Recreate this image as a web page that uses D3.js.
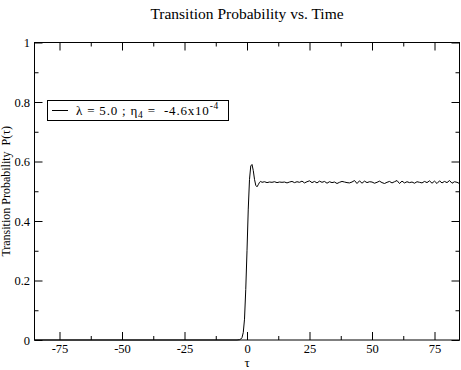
<!DOCTYPE html>
<html>
<head>
<meta charset="utf-8">
<script src="https://cdn.jsdelivr.net/npm/d3@7"></script>
<style>
  body { margin: 0; background: #fff; }
  text { font-family: "Liberation Serif", "Times New Roman", serif; fill: #000; }
</style>
</head>
<body>
<svg id="chart"></svg>
<script>
var width = 461,
    height = 370

// transition probability curve
var tauStep = [-85, -10, -4, -3, -2.5, -2, -1.5, -1, -0.5, 0, 0.5, 1, 1.5, 2, 2.5, 3, 3.5, 4, 4.5, 5, 5.5]
var probStep = [0, 0, 0, 0.001, 0.003, 0.008, 0.025, 0.07, 0.17, 0.30, 0.44, 0.54, 0.585, 0.59, 0.57, 0.54, 0.52, 0.515, 0.522, 0.53, 0.533]

var tauPlateau = [6, 7, 8, 9, 10, 11, 12, 13, 14, 15, 16, 17, 18, 19, 20, 21, 22, 23, 24, 25,
    26, 27, 28, 29, 30, 31, 32, 33, 34, 35, 36, 37, 38, 39, 40, 41, 42, 43, 44, 45,
    46, 47, 48, 49, 50, 51, 52, 53, 54, 55, 56, 57, 58, 59, 60, 61, 62, 63, 64, 65,
    66, 67, 68, 69, 70, 71, 72, 73, 74, 75, 76, 77, 78, 79, 80, 81, 82, 83, 84, 85]
var probPlateau = [0.530, 0.532, 0.529, 0.531, 0.530, 0.532, 0.529, 0.531, 0.530, 0.531, 0.528, 0.531, 0.533, 0.529, 0.532, 0.530, 0.534, 0.528, 0.532, 0.535,
    0.529, 0.533, 0.528, 0.534, 0.530, 0.533, 0.527, 0.532, 0.529, 0.531, 0.526, 0.530, 0.533, 0.531, 0.529, 0.528, 0.531, 0.536, 0.526, 0.535,
    0.527, 0.534, 0.529, 0.532, 0.531, 0.527, 0.530, 0.534, 0.529, 0.526, 0.530, 0.533, 0.528, 0.532, 0.536, 0.526, 0.534, 0.528, 0.532, 0.529,
    0.531, 0.527, 0.532, 0.530, 0.528, 0.533, 0.529, 0.535, 0.527, 0.534, 0.526, 0.535, 0.528, 0.533, 0.529, 0.536, 0.527, 0.532, 0.530, 0.526]

var xTicks = [-75, -50, -25, 0, 25, 50, 75]
var xMinor = [-62.5, -37.5, -12.5, 12.5, 37.5, 62.5]
var yTicks = [0, 0.2, 0.4, 0.6, 0.8, 1]
var yMinor = [0.1, 0.3, 0.5, 0.7, 0.9]

var tau = tauStep.concat(tauPlateau)
var prob = probStep.concat(probPlateau)
var data = tau.map(function(t, i) { return {t: t, p: prob[i]} })

var plotLeft = 34.5, plotRight = 459.5, plotTop = 42.5, plotBottom = 340

var svg = d3.select("#chart")
    .attr("width", width)
    .attr("height", height)

var x = d3.scaleLinear().domain([-85, 85]).range([plotLeft, plotRight])
var y = d3.scaleLinear().domain([0, 1]).range([plotBottom, plotTop])

// title
svg.append("text")
    .attr("x", (plotLeft + plotRight) / 2)
    .attr("y", 19)
    .attr("text-anchor", "middle")
    .style("font-size", "15.5px")
    .text("Transition Probability vs. Time")

// ticks (inside, on all four sides)
var plain = function(d) { return String(d) }
var bottomAxis = d3.axisBottom(x).tickValues(xTicks).tickSize(-8).tickPadding(4).tickFormat(plain)
var bottomMinor = d3.axisBottom(x).tickValues(xMinor).tickSize(-4).tickFormat("")
var topAxis = d3.axisTop(x).tickValues(xTicks).tickSize(-8).tickFormat("")
var topMinor = d3.axisTop(x).tickValues(xMinor).tickSize(-4).tickFormat("")
var leftAxis = d3.axisLeft(y).tickValues(yTicks).tickSize(-8).tickPadding(4.5).tickFormat(plain)
var leftMinor = d3.axisLeft(y).tickValues(yMinor).tickSize(-4).tickFormat("")
var rightAxis = d3.axisRight(y).tickValues(yTicks).tickSize(-8).tickFormat("")
var rightMinor = d3.axisRight(y).tickValues(yMinor).tickSize(-4).tickFormat("")

function drawAxis(ax, tx, ty) {
    var g = svg.append("g")
        .attr("transform", "translate(" + tx + "," + ty + ")")
        .call(ax)
    g.select(".domain").remove()
    g.selectAll("line").attr("stroke", "#000")
    g.selectAll("text")
        .attr("fill", "#000")
        .style("font-size", "12.5px")
    return g
}

drawAxis(bottomAxis, 0, plotBottom)
drawAxis(bottomMinor, 0, plotBottom)
drawAxis(topAxis, 0, plotTop)
drawAxis(topMinor, 0, plotTop)
drawAxis(leftAxis, plotLeft, 0)
drawAxis(leftMinor, plotLeft, 0)
drawAxis(rightAxis, plotRight, 0)
drawAxis(rightMinor, plotRight, 0)

// frame
svg.append("rect")
    .attr("x", plotLeft)
    .attr("y", plotTop)
    .attr("width", plotRight - plotLeft)
    .attr("height", plotBottom - plotTop)
    .attr("fill", "none")
    .attr("stroke", "#000")

// curve
var line = d3.line()
    .x(function(d) { return x(d.t) })
    .y(function(d) { return y(d.p) })

svg.append("path")
    .datum(data)
    .attr("d", line)
    .attr("fill", "none")
    .attr("stroke", "#000")
    .attr("stroke-width", 1)

// axis labels
svg.append("text")
    .attr("x", (plotLeft + plotRight) / 2)
    .attr("y", 367)
    .attr("text-anchor", "middle")
    .style("font-size", "13px")
    .text("τ")

svg.append("text")
    .attr("transform", "translate(10," + ((plotTop + plotBottom) / 2) + ") rotate(-90)")
    .attr("text-anchor", "middle")
    .style("font-size", "12px")
    .style("white-space", "pre")
    .text("Transition Probability  P(τ)")

// legend
var legend = svg.append("g")
legend.append("rect")
    .attr("x", 47.5)
    .attr("y", 100.5)
    .attr("width", 181)
    .attr("height", 20)
    .attr("fill", "#fff")
    .attr("stroke", "#000")

legend.append("line")
    .attr("x1", 52)
    .attr("x2", 68)
    .attr("y1", 110.5)
    .attr("y2", 110.5)
    .attr("stroke", "#000")

var lt = legend.append("text")
    .attr("x", 76)
    .attr("y", 115)
    .style("font-size", "13px")
    .style("white-space", "pre")
    .style("letter-spacing", "0.8px")
lt.append("tspan").text("λ = 5.0 ; η")
lt.append("tspan").attr("dy", 3).style("font-size", "9.5px").text("4")
lt.append("tspan").attr("dy", -3).text(" =  -4.6x10")
lt.append("tspan").attr("dy", -6).style("font-size", "9.5px").text("-4")
</script>
</body>
</html>
